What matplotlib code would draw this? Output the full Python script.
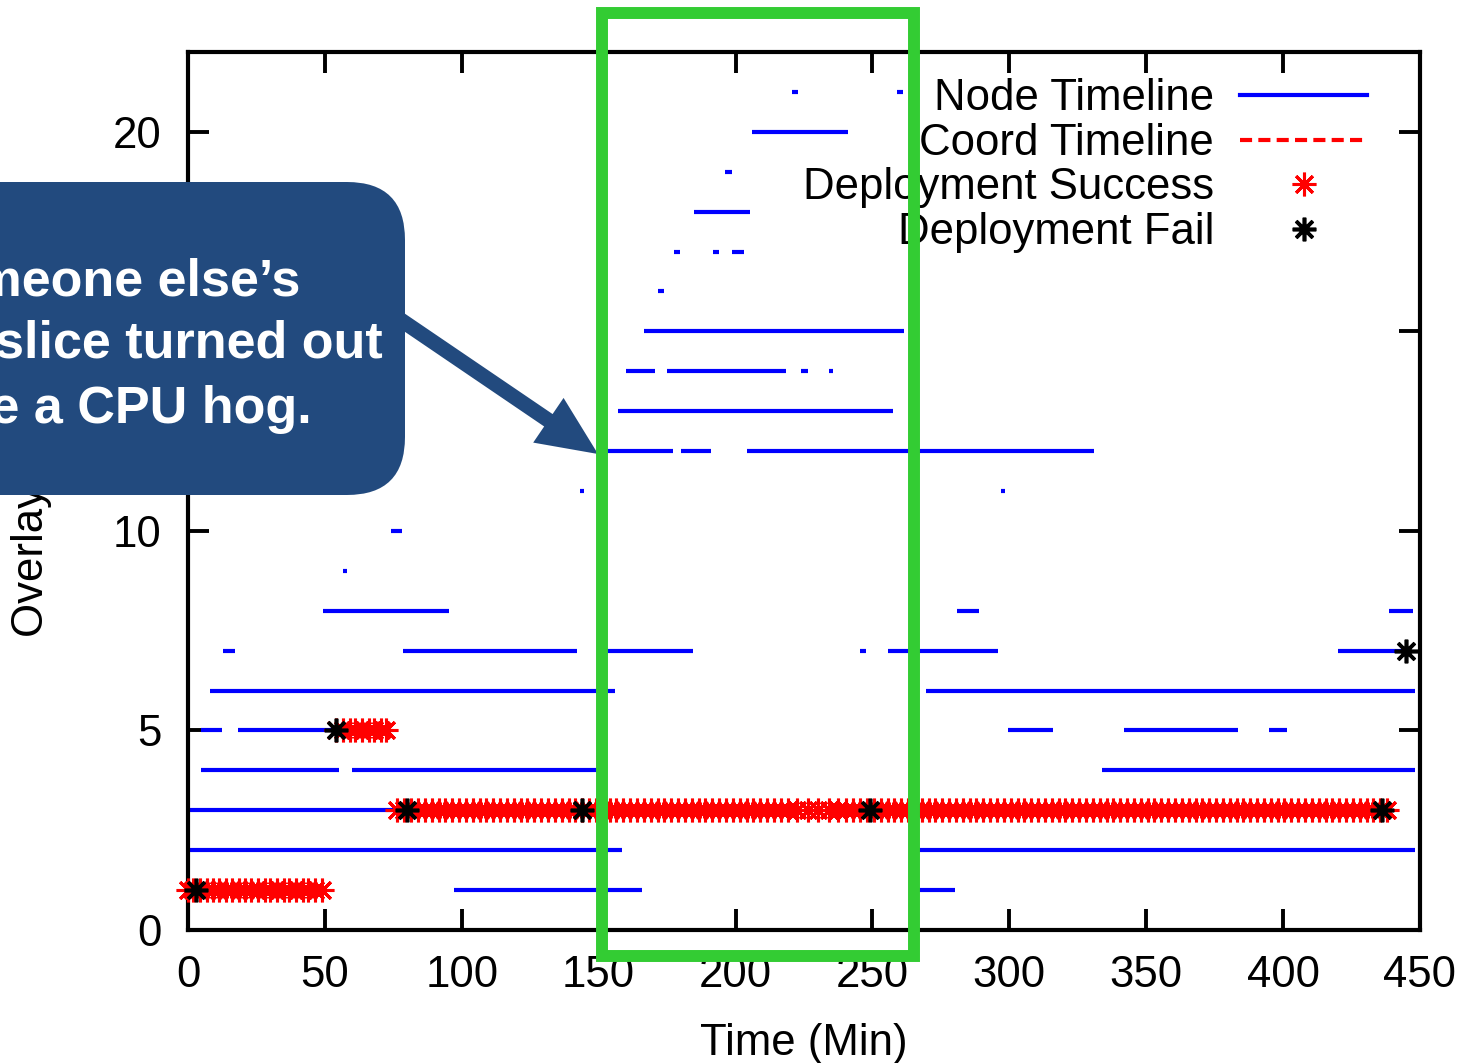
import matplotlib
matplotlib.use("Agg")
import numpy as np
import matplotlib.pyplot as plt
from matplotlib.patches import FancyBboxPatch, FancyArrow, Rectangle
from matplotlib.transforms import IdentityTransform

plt.rcParams["font.family"] = ["Liberation Sans", "DejaVu Sans"]

# Node timelines: overlay level, start / end time (min)
node_level = [1, 1,
              2, 2,
              3,
              4, 4, 4,
              5, 5, 5, 5, 5,
              6, 6,
              7, 7, 7, 7, 7, 7,
              8, 8, 8,
              9, 10, 11, 11,
              12, 12, 12,
              13,
              14, 14, 14, 14,
              15, 16,
              17, 17, 17,
              18, 19, 20,
              21, 21]
node_start = [97, 265,
              0, 265,
              0,
              4.6, 60, 334,
              4.6, 18.3, 299.5, 342, 395,
              8, 269.6,
              12.7, 78.4, 152, 245.4, 255.7, 420,
              49.4, 281, 438.5,
              56.5, 74, 143, 297,
              153, 180, 204,
              157,
              160, 175, 224, 234,
              166.5, 171.6,
              177.5, 191.8, 198.7,
              184.8, 196, 206,
              220.6, 259]
node_end = [166, 280,
            158.5, 448,
            75,
            55, 151, 448,
            12.5, 53, 316, 383.5, 401.4,
            156, 448,
            17.2, 142, 184.5, 247.6, 296, 445,
            95.3, 289, 447.5,
            58, 78, 144.5, 298.5,
            177, 191, 331,
            257.5,
            170.6, 218.4, 226.5, 235.5,
            261.5, 174,
            179.7, 194, 203,
            205.3, 198.7, 241,
            222.8, 261]

# Deployment success times (min) on each level
success_level_1 = [0, 2, 4.5, 7, 9, 11.5, 14, 16, 18.5, 21, 23, 25.5, 28, 30,
                   32.5, 35, 37, 39.5, 42, 44, 46.5, 49]
success_level_5 = [54, 56.5, 59, 61, 63.5, 66, 68, 70.5, 72.5]
success_level_3 = [76.5, 79, 81.5, 84, 86.5, 89, 91.5, 94, 96.5, 99,
                   101.5, 104, 106.5, 109, 111.5, 114, 116.5, 119, 121.5, 124,
                   126.5, 129, 131.5, 134, 136.5, 139, 141.5, 144, 146.5, 149,
                   151.5, 154, 156.5, 159, 161.5, 164, 166.5, 169, 171.5, 174,
                   176.5, 179, 181.5, 184, 186.5, 189, 191.5, 194, 196.5, 199,
                   201.5, 204, 206.5, 209, 211.5, 214, 216.5, 219, 222.5, 226.5,
                   230, 234, 237.5, 240.5, 243, 245.5, 248, 250.5, 253, 255.5,
                   258, 260.5, 263, 265.5, 268, 270.5, 273, 275.5, 278, 280.5,
                   283, 285.5, 288, 290.5, 293, 295.5, 298, 300.5, 303, 305.5,
                   308, 310.5, 313, 315.5, 318, 320.5, 323, 325.5, 328, 330.5,
                   333, 335.5, 338, 340.5, 343, 345.5, 348, 350.5, 353, 355.5,
                   358, 360.5, 363, 365.5, 368, 370.5, 373, 375.5, 378, 380.5,
                   383, 385.5, 388, 390.5, 393, 395.5, 398, 400.5, 403, 405.5,
                   408, 410.5, 413, 415.5, 418, 420.5, 423, 425.5, 428, 430.5,
                   433, 435.5, 438]

# Deployment failures
fail_time = [3, 54, 80, 144, 249, 436, 445]
fail_level = [1, 5, 3, 3, 3, 3, 7]

x_ticks = [0, 50, 100, 150, 200, 250, 300, 350, 400, 450]
y_ticks = [0, 5, 10, 15, 20]

callout_lines = ["Someone else\u2019s", "slice turned out", "to be a CPU hog."]

W, H = 1473, 1063
fig = plt.figure(figsize=(W / 100, H / 100), dpi=100)
ax = fig.add_axes([188 / W, 1 - 930 / H, 1232 / W, 878 / H])

star = (8, 2, 0)
fs = 31.5

ax.hlines(node_level, node_start, node_end, colors="#0000FF", linewidth=3.0,
          capstyle="butt", zorder=2)

succ_handle = None
for lvl, times in [(1, success_level_1), (3, success_level_3), (5, success_level_5)]:
    succ_handle, = ax.plot(times, np.full(len(times), lvl), linestyle="none",
                           marker=star, markersize=17, markeredgewidth=2.2,
                           color="#FF0000", clip_on=False, zorder=3)
fail_handle, = ax.plot(fail_time, fail_level, linestyle="none", marker=star,
                       markersize=17, markeredgewidth=2.6, color="black",
                       clip_on=False, zorder=4)

# legend proxies
node_handle, = ax.plot([], [], color="#0000FF", linewidth=3.0)
coord_handle, = ax.plot([], [], color="#FF0000", linewidth=3.0,
                        linestyle=(0, (2.9, 1.5)))

ax.legend([node_handle, coord_handle, succ_handle, fail_handle],
          ["Node Timeline", "Coord Timeline", "Deployment Success", "Deployment Fail"],
          loc="upper right", bbox_to_anchor=(0.957, 0.970), markerfirst=False,
          frameon=False, fontsize=fs, handlelength=2.9, handletextpad=0.6,
          labelspacing=0.08, borderpad=0, borderaxespad=0, numpoints=1)

ax.set_xlim(0, 450)
ax.set_ylim(0, 22)
ax.set_xticks(x_ticks)
ax.set_yticks(y_ticks)
ax.tick_params(direction="in", length=15, width=2.8, top=True, right=True,
               labelsize=fs)
ax.tick_params(axis="x", pad=18)
ax.tick_params(axis="y", pad=19)
for sp in ax.spines.values():
    sp.set_linewidth(3.0)

ax.set_xlabel("Time (Min)", fontsize=fs, labelpad=19.5)
ax.set_ylabel("Overlay Node", fontsize=fs)
ax.yaxis.set_label_coords(-0.11, 0.486)

# callout overlay (pixel coordinates)
px = IdentityTransform()
fig.add_artist(FancyBboxPatch((-100, H - 495), 505, 313,
                              boxstyle="round,pad=0,rounding_size=58",
                              transform=px, facecolor="#224A7E",
                              edgecolor="none", zorder=5))
fig.add_artist(FancyArrow(395, H - 316, 203, -138, width=15, head_width=54,
                          head_length=60, length_includes_head=True,
                          transform=px, facecolor="#224A7E",
                          edgecolor="none", zorder=5))
for txt, xr, yb in zip(callout_lines, [300, 383, 312], [295, 358, 423]):
    fig.text(xr, H - yb, txt, transform=px, ha="right", va="baseline",
             color="white", fontsize=37.5, fontweight="bold", zorder=6)

fig.add_artist(Rectangle((602, H - 956), 312, 943.5, transform=px, fill=False,
                         edgecolor="#33CC33", linewidth=8.6,
                         joinstyle="miter", zorder=7))

fig.savefig("out.png", dpi=100)
